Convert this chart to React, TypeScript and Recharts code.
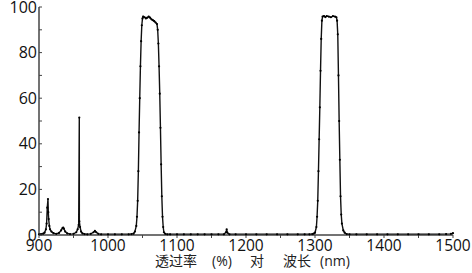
import React from 'react';
import { LineChart, Line, XAxis, YAxis } from 'recharts';

const wavelengths: number[] = [
  900, 903, 906, 908, 910, 911, 912, 913, 913.5, 914, 915, 916, 918, 921, 925, 929, 932, 934, 935, 936, 938, 941, 945,
  950, 954, 956, 957.5, 958.4, 958.5, 959.5, 961, 963, 966, 970, 975, 979, 981, 983, 986, 990, 1000, 1010, 1020, 1030,
  1034, 1037, 1039, 1041, 1042, 1043, 1044, 1045, 1046, 1047, 1048, 1049, 1050, 1051, 1053, 1055, 1057, 1059, 1061,
  1063, 1065, 1067, 1069, 1071, 1072, 1073, 1074, 1075, 1076, 1077, 1078, 1079, 1080, 1081, 1083, 1086, 1090, 1100,
  1110, 1120, 1130, 1140, 1150, 1160, 1168, 1171, 1172, 1173, 1176, 1185, 1200, 1215, 1230, 1245, 1260, 1275, 1285,
  1292, 1296, 1298, 1300, 1302, 1303, 1304, 1305, 1306, 1307, 1308, 1309, 1310, 1311, 1313, 1315, 1317, 1320, 1323,
  1326, 1329, 1331, 1332, 1333, 1334, 1335, 1336, 1337, 1338, 1339, 1341, 1343, 1346, 1350, 1360, 1375, 1390, 1405,
  1420, 1435, 1450, 1465, 1480, 1490, 1497, 1500,
];

const transmission: number[] = [
  0.3, 0.4, 0.6, 1, 2.5, 5, 12, 15.8, 10, 7, 4, 2.5, 1.5, 0.8, 0.5, 0.9, 2, 3, 3.2, 2.8, 1.5, 0.7, 0.4,
  0.5, 1.2, 2.5, 4.5, 51.5, 6, 3.5, 1.5, 0.7, 0.4, 0.3, 0.5, 1.2, 1.8, 1.2, 0.5, 0.3, 0.3, 0.3, 0.3, 0.3,
  0.4, 0.6, 1.5, 4, 8, 15, 28, 45, 60, 74, 85, 92, 95, 95.8, 95.5, 95, 95.3, 95.8, 95.3,
  94.6, 94.2, 93.8, 93.2, 92.5, 90, 84, 74, 62, 47, 31, 17, 8, 3.5, 1.2, 0.5, 0.3, 0.3, 0.3,
  0.3, 0.3, 0.3, 0.3, 0.3, 0.3, 0.3, 1.2, 2.5, 1, 0.3, 0.3, 0.3, 0.3, 0.3, 0.3, 0.3, 0.3, 0.3,
  0.3, 0.4, 0.6, 1, 3.5, 8, 15, 28, 42, 56, 72, 86, 94, 95.8, 96, 95.6, 96, 95.8, 95.5,
  96, 95.8, 95.5, 94, 88, 70, 50, 33, 17, 9, 5, 2, 1, 0.4, 0.3, 0.3, 0.3, 0.3, 0.3,
  0.3, 0.3, 0.3, 0.3, 0.3, 0.4, 0.5, 0.8,
];

const xTicks: number[] = [900, 950, 1000, 1050, 1100, 1150, 1200, 1250, 1300, 1350, 1400, 1450, 1500];
const yTicks: number[] = [0, 10, 20, 30, 40, 50, 60, 70, 80, 90, 100];

const data = wavelengths.map((w, i) => ({ w, t: transmission[i] }));

const AXIS_COLOR = '#444';
const TICK_FONT = '"Open Sans", "DejaVu Sans", sans-serif';
const Y_AXIS_X = 39;

const XTick = (props: any) => {
  const { x, y, payload } = props;
  if (payload.value % 100 !== 0) return null;
  return (
    <text x={x} y={y + 11} textAnchor="middle" fontFamily={TICK_FONT} fontSize={15.5} fill="#111">
      {payload.value}
    </text>
  );
};

const YTick = (props: any) => {
  const { y, payload } = props;
  return (
    <g>
      <line x1={Y_AXIS_X} x2={Y_AXIS_X + 3} y1={y} y2={y} stroke={AXIS_COLOR} strokeWidth={1} />
      {payload.value % 20 === 0 ? (
        <text x={37} y={y + 5.5} textAnchor="end" fontFamily={TICK_FONT} fontSize={16} fill="#111">
          {payload.value}
        </text>
      ) : null}
    </g>
  );
};

const XLabel = () => (
  <text y={265.5} fontFamily='"Noto Sans CJK SC", sans-serif' fontSize={14} fill="#222">
    <tspan x={155}>透过率</tspan>
    <tspan x={212} fontFamily={TICK_FONT} fontSize={14}>(%)</tspan>
    <tspan x={250}>对</tspan>
    <tspan x={283}>波长</tspan>
    <tspan x={320} fontFamily={TICK_FONT} fontSize={14}>(nm)</tspan>
  </text>
);

const Dot = (props: any) => {
  const { cx, cy } = props;
  if (cx == null || cy == null) return null;
  return <circle cx={cx} cy={cy} r={1.1} fill="#000" />;
};

export default function App() {
  return (
    <div style={{ position: 'absolute', left: 0, top: 0, background: '#fff' }}>
      <LineChart width={472} height={273} data={data} margin={{ top: 7, right: 19, left: 0, bottom: 0 }}>
        <XAxis
          dataKey="w"
          type="number"
          domain={[900, 1500]}
          ticks={xTicks}
          interval={0}
          height={38}
          tickSize={3}
          tickLine={{ stroke: AXIS_COLOR }}
          axisLine={{ stroke: AXIS_COLOR, strokeWidth: 1.5 }}
          tick={<XTick />}
          label={<XLabel />}
        />
        <YAxis
          type="number"
          domain={[0, 100]}
          ticks={yTicks}
          interval={0}
          width={39}
          tickLine={false}
          axisLine={{ stroke: AXIS_COLOR, strokeWidth: 1.5 }}
          tick={<YTick />}
        />
        <Line
          dataKey="t"
          type="linear"
          stroke="#111"
          strokeWidth={1.4}
          dot={<Dot />}
          activeDot={false}
          isAnimationActive={false}
        />
      </LineChart>
    </div>
  );
}
